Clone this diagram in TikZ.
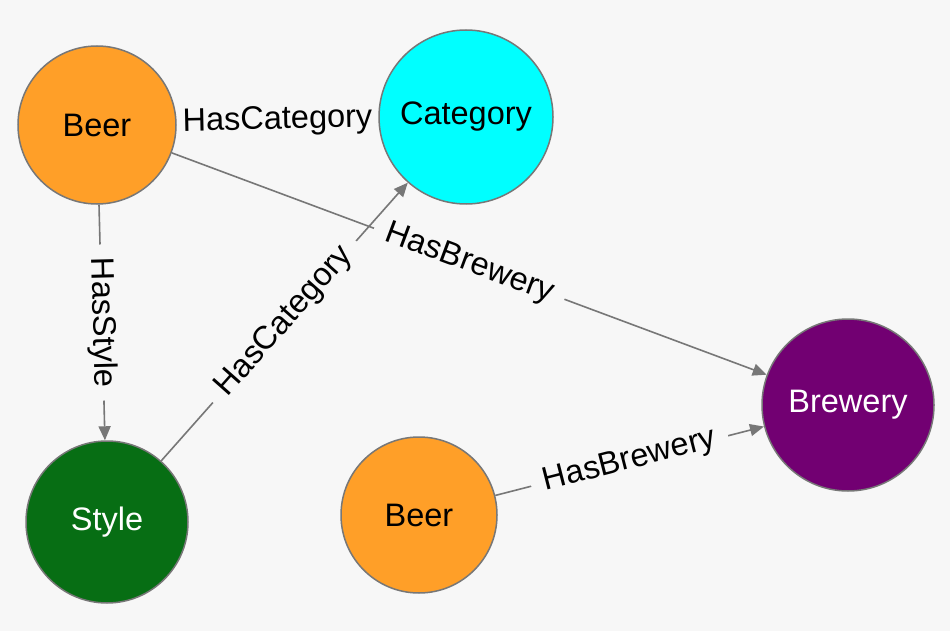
\documentclass[tikz,border=0pt]{standalone}
\usepackage{fontspec}
\setmainfont{Liberation Sans}
\usetikzlibrary{arrows.meta}
\pgfdeclarelayer{bglayer}
\pgfdeclarelayer{edgelayer}
\pgfsetlayers{bglayer,edgelayer,main}
\definecolor{bgc}{HTML}{F7F7F7}
\definecolor{bordc}{HTML}{777777}
\definecolor{edgec}{HTML}{777777}
\definecolor{beerc}{HTML}{FF9F28}
\definecolor{catc}{HTML}{00FFFF}
\definecolor{brewc}{HTML}{720072}
\definecolor{stylec}{HTML}{076E14}
\begin{document}
\begin{tikzpicture}[x=1pt,y=-1pt,
  ent/.style={circle, draw=bordc, line width=1.5pt, inner sep=0pt, font=\fontsize{32.5}{38}\selectfont},
  rel/.style={draw=edgec, line width=1.6pt, -{Triangle[length=14pt,width=12pt]}},
  lbl/.style={sloped, fill=bgc, inner xsep=13pt, inner ysep=1pt, text=black, font=\fontsize{32.5}{38}\selectfont}]
\begin{pgfonlayer}{bglayer}
\fill[bgc] (0,0) rectangle (950,631);
\end{pgfonlayer}
\useasboundingbox (0,0) rectangle (950,631);
\node[ent, fill=beerc, minimum size=158pt] (beer1) at (97,125) {Beer};
\node[ent, fill=catc, minimum size=174pt] (cat) at (466,117) {Category};
\node[ent, fill=stylec, text=white, minimum size=162pt] (style) at (107,522) {Style};
\node[ent, fill=beerc, minimum size=156pt] (beer2) at (419,515) {Beer};
\node[ent, fill=brewc, text=white, minimum size=172pt] (brew) at (848,405) {Brewery};
\begin{pgfonlayer}{edgelayer}
\draw[rel] (beer1) -- node[lbl]{HasCategory} (cat);
\draw[rel] (beer1) -- node[lbl]{HasBrewery} (brew);
\draw[rel] (beer1) -- node[lbl]{HasStyle} (style);
\draw[rel] (style) -- node[lbl]{HasCategory} (cat);
\draw[rel] (beer2) -- node[lbl]{HasBrewery} (brew);
\end{pgfonlayer}
\end{tikzpicture}
\end{document}
